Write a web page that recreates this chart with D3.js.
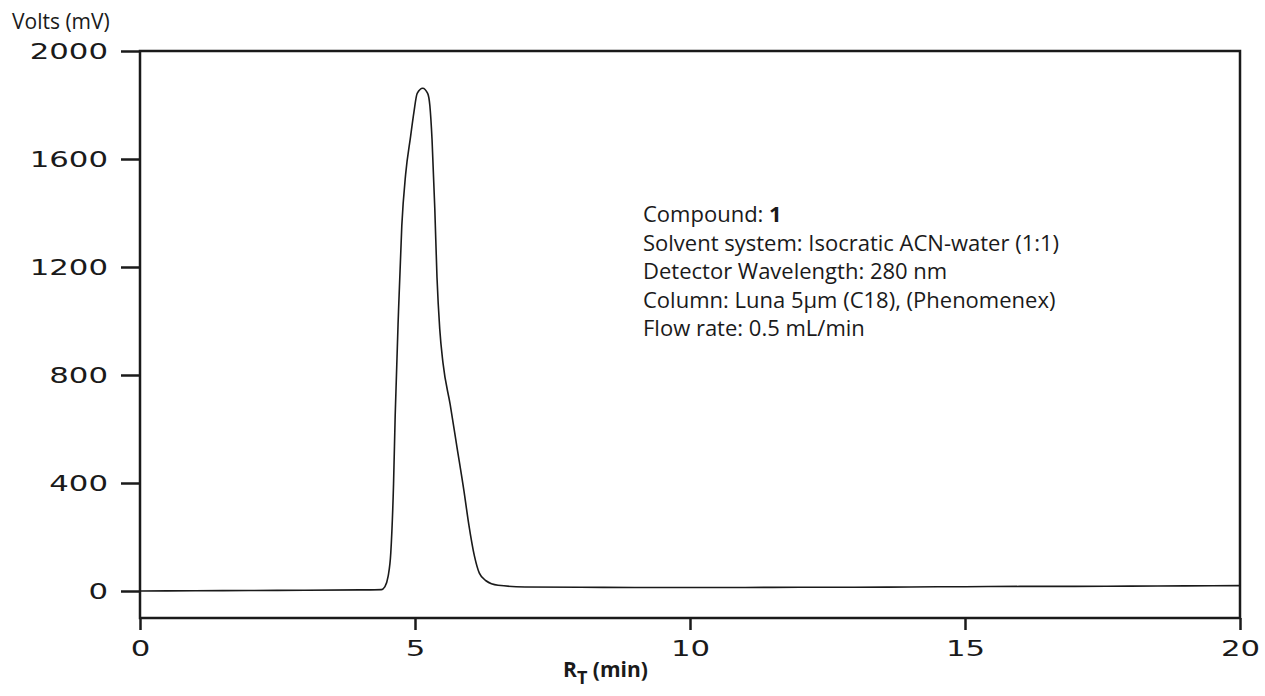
<!DOCTYPE html>
<html>
<head>
<meta charset="utf-8">
<script src="https://cdn.jsdelivr.net/npm/d3@7"></script>
<style>
  body { margin: 0; background: #fff; }
</style>
</head>
<body>
<div id="chart"></div>
<script>
// retention time (min) and detector signal (mV)
const rtMin = [0, 1, 2, 3, 4, 4.39, 4.45, 4.51, 4.56, 4.61, 4.64, 4.70, 4.76, 4.83, 4.92, 4.98, 5.04, 5.14,
  5.23, 5.27, 5.31, 5.36, 5.40, 5.45, 5.51, 5.64, 5.76, 5.89, 5.98, 6.08, 6.17, 6.29, 6.51, 7.0,
  8, 9, 10, 11, 12, 13, 14, 15, 16, 17, 18, 19, 20];
const signalMv = [0, 1, 2, 3, 4, 5, 15, 53, 142, 397, 652, 1034, 1353, 1544, 1684, 1773, 1843, 1862,
  1843, 1798, 1671, 1416, 1161, 970, 843, 690, 537, 371, 244, 130, 66, 38, 21, 15,
  14, 13, 13, 13, 14, 14, 15, 16, 17, 17, 18, 19, 20];

const yTicks = [0, 400, 800, 1200, 1600, 2000];
const xTicks = [0, 5, 10, 15, 20];

const infoLines = [
  ["Compound: ", "1"],
  ["Solvent system: Isocratic ACN-water (1:1)", ""],
  ["Detector Wavelength: 280 nm", ""],
  ["Column: Luna 5\u03BCm (C18), (Phenomenex)", ""],
  ["Flow rate: 0.5 mL/min", ""]
];

const width = 1265;
const height = 696;
const margin = { top: 51, right: 25, bottom: 78, left: 140 };
const ink = "#1a1a1a";
const numFont = "'DejaVu Sans', sans-serif";
const textFont = "'Open Sans', 'Noto Sans', sans-serif";

const svg = d3.select("#chart")
  .append("svg")
  .attr("width", width)
  .attr("height", height);

const x = d3.scaleLinear()
  .domain([0, 20])
  .range([margin.left, width - margin.right]);

const y = d3.scaleLinear()
  .domain([-100, 2000])
  .range([height - margin.bottom, margin.top]);

// stretch numerals sideways so they look like the wide round face of the original
function widen(g, sx) {
  g.selectAll(".tick text").each(function () {
    const t = d3.select(this);
    const tx = +t.attr("x") || 0;
    const ty = +t.attr("y") || 0;
    t.attr("x", 0).attr("y", 0)
      .attr("transform", `translate(${tx},${ty}) scale(${sx},1)`);
  });
}

function yAxis(g) {
  g.attr("transform", `translate(${margin.left},0)`)
    .call(d3.axisLeft(y).tickValues(yTicks).tickFormat(d3.format("d")).tickSize(19).tickPadding(13))
    .call(g => g.select(".domain").remove())
    .call(g => g.selectAll(".tick line").attr("stroke", ink).attr("stroke-width", 2.5))
    .call(g => g.selectAll(".tick text")
      .attr("fill", ink)
      .attr("font-family", numFont)
      .attr("font-size", "22px"))
    .call(g => widen(g, 1.4));
}

function xAxis(g) {
  g.attr("transform", `translate(0,${height - margin.bottom})`)
    .call(d3.axisBottom(x).tickValues(xTicks).tickFormat(d3.format("d")).tickSize(12).tickPadding(10))
    .call(g => g.select(".domain").remove())
    .call(g => g.selectAll(".tick line").attr("stroke", ink).attr("stroke-width", 2.5))
    .call(g => g.selectAll(".tick text")
      .attr("fill", ink)
      .attr("font-family", numFont)
      .attr("font-size", "22px"))
    .call(g => widen(g, 1.4));
}

svg.append("g").call(yAxis);
svg.append("g").call(xAxis);

// plot frame
svg.append("rect")
  .attr("x", x(0))
  .attr("y", y(2000))
  .attr("width", x(20) - x(0))
  .attr("height", y(-100) - y(2000))
  .attr("fill", "none")
  .attr("stroke", ink)
  .attr("stroke-width", 2.5);

const line = d3.line()
  .x((d, i) => x(rtMin[i]))
  .y(d => y(d))
  .curve(d3.curveMonotoneX);

svg.append("path")
  .datum(signalMv)
  .attr("fill", "none")
  .attr("stroke", ink)
  .attr("stroke-width", 1.6)
  .attr("d", line);

// y axis title
svg.append("text")
  .attr("x", 12)
  .attr("y", 29)
  .attr("font-family", textFont)
  .attr("font-size", "21px")
  .attr("fill", ink)
  .text("Volts (mV)");

// x axis title with subscript
const xt = svg.append("text")
  .attr("x", 563)
  .attr("y", 677)
  .attr("font-family", textFont)
  .attr("font-size", "21px")
  .attr("font-weight", "bold")
  .attr("fill", ink);
xt.append("tspan").text("R");
xt.append("tspan").attr("dy", 7).attr("font-size", "18px").text("T");
xt.append("tspan").attr("dy", -7).text(" (min)");

// run conditions
const info = svg.append("g")
  .attr("font-family", textFont)
  .attr("font-size", "22px")
  .attr("fill", ink);

info.selectAll("text")
  .data(infoLines)
  .join("text")
    .attr("x", 643)
    .attr("y", (d, i) => 222 + i * 28.6)
    .each(function (d) {
      const t = d3.select(this);
      t.append("tspan").text(d[0]);
      if (d[1]) t.append("tspan").attr("font-weight", "bold").text(d[1]);
    });
</script>
</body>
</html>
